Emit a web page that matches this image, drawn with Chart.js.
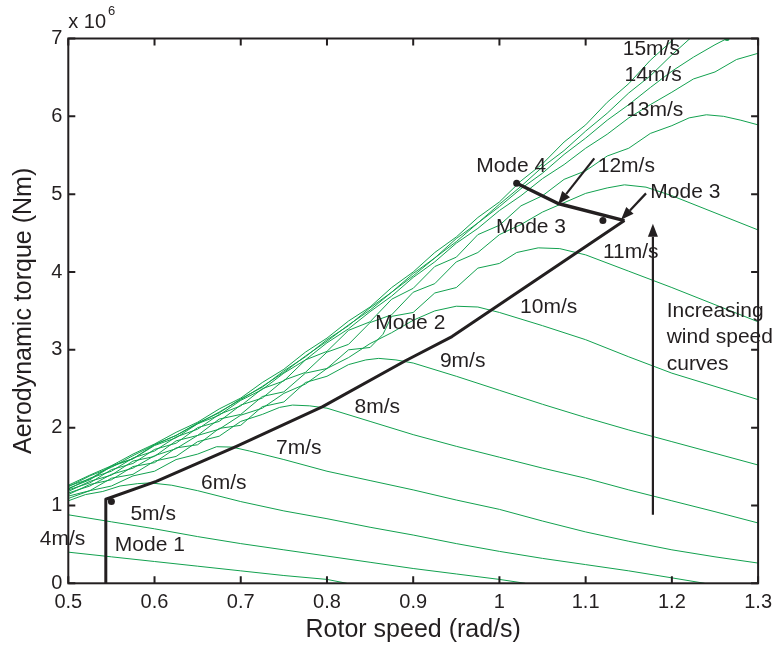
<!DOCTYPE html>
<html>
<head>
<meta charset="utf-8">
<script src="https://cdn.jsdelivr.net/npm/chart.js@4/dist/chart.umd.min.js"></script>
<style>
  html, body { margin: 0; background: #fff; }
  #box { width: 779px; height: 647px; }
</style>
</head>
<body>
<div id="box"><canvas id="torqueChart"></canvas></div>
<script>
// x axis ticks
const xTickValues = [0.5, 0.6, 0.7, 0.8, 0.9, 1.0, 1.1, 1.2, 1.3];
const xTickLabels = ["0.5", "0.6", "0.7", "0.8", "0.9", "1", "1.1", "1.2", "1.3"];
const yTickValues = [0, 1, 2, 3, 4, 5, 6, 7];

// torque (x10^6 Nm) against rotor speed (rad/s), one curve per wind speed
const wind4 = [[0.5,0.40],[0.55,0.34],[0.6,0.28],[0.65,0.22],[0.7,0.16],[0.75,0.10],[0.8,0.05],[0.823,0.0]];
const wind5 = [[0.5,0.88],[0.55,0.79],[0.6,0.70],[0.65,0.60],[0.7,0.51],[0.75,0.43],[0.8,0.35],[0.85,0.27],[0.9,0.19],[0.95,0.12],[1.0,0.05],[1.03,0.0]];
const wind6 = [[0.5,1.06],[0.52,1.14],[0.54,1.18],[0.56,1.25],[0.58,1.28],[0.595,1.29],[0.62,1.26],[0.65,1.19],[0.7,1.05],[0.75,0.93],[0.8,0.83],[0.85,0.72],[0.9,0.62],[0.95,0.51],[1.0,0.41],[1.05,0.32],[1.1,0.24],[1.15,0.16],[1.2,0.07],[1.238,0.0]];
const wind7 = [[0.5,1.09],[0.525,1.19],[0.55,1.25],[0.575,1.38],[0.6,1.44],[0.625,1.59],[0.65,1.66],[0.672,1.755],[0.69,1.75],[0.71,1.70],[0.75,1.59],[0.8,1.44],[0.85,1.32],[0.9,1.20],[0.95,1.07],[1.0,0.95],[1.05,0.80],[1.1,0.66],[1.15,0.54],[1.2,0.43],[1.25,0.34],[1.3,0.26]];
const wind8 = [[0.5,1.12],[0.525,1.19],[0.55,1.35],[0.575,1.40],[0.6,1.57],[0.625,1.63],[0.65,1.82],[0.675,1.89],[0.7,2.08],[0.725,2.17],[0.745,2.26],[0.76,2.29],[0.78,2.28],[0.8,2.25],[0.85,2.08],[0.9,1.91],[0.95,1.76],[1.0,1.62],[1.05,1.48],[1.1,1.35],[1.15,1.20],[1.2,1.06],[1.25,0.92],[1.3,0.775]];
const wind9 = [[0.5,1.14],[0.525,1.27],[0.55,1.33],[0.575,1.50],[0.6,1.55],[0.625,1.74],[0.65,1.78],[0.675,1.99],[0.7,2.03],[0.725,2.27],[0.75,2.33],[0.775,2.58],[0.8,2.66],[0.825,2.81],[0.845,2.87],[0.86,2.89],[0.88,2.87],[0.9,2.83],[0.95,2.66],[1.0,2.48],[1.05,2.30],[1.1,2.13],[1.15,1.97],[1.2,1.82],[1.25,1.67],[1.3,1.52]];
const wind10 = [[0.5,1.16],[0.525,1.25],[0.55,1.40],[0.575,1.48],[0.6,1.64],[0.625,1.73],[0.65,1.90],[0.675,1.98],[0.7,2.16],[0.725,2.25],[0.75,2.44],[0.775,2.56],[0.8,2.76],[0.825,2.90],[0.85,3.08],[0.875,3.22],[0.9,3.38],[0.925,3.50],[0.95,3.56],[0.975,3.55],[1.0,3.48],[1.05,3.31],[1.1,3.13],[1.15,2.91],[1.2,2.70],[1.25,2.53],[1.3,2.36]];
const wind11 = [[0.5,1.18],[0.525,1.31],[0.55,1.39],[0.575,1.57],[0.6,1.63],[0.625,1.83],[0.65,1.90],[0.675,2.11],[0.7,2.17],[0.725,2.40],[0.75,2.46],[0.775,2.70],[0.8,2.76],[0.825,3.00],[0.85,3.03],[0.865,3.20],[0.875,3.43],[0.9,3.48],[0.925,3.73],[0.95,3.80],[0.975,4.05],[1.0,4.11],[1.02,4.25],[1.045,4.31],[1.07,4.30],[1.1,4.22],[1.15,4.01],[1.2,3.80],[1.25,3.58],[1.3,3.36]];
const wind12 = [[0.5,1.20],[0.525,1.29],[0.55,1.46],[0.575,1.54],[0.6,1.72],[0.625,1.80],[0.65,2.00],[0.675,2.08],[0.7,2.29],[0.725,2.38],[0.75,2.61],[0.775,2.71],[0.8,2.97],[0.825,3.07],[0.85,3.35],[0.875,3.45],[0.9,3.74],[0.925,3.85],[0.95,4.13],[0.975,4.25],[1.0,4.48],[1.025,4.61],[1.05,4.77],[1.075,4.89],[1.1,5.01],[1.125,5.08],[1.145,5.12],[1.17,5.09],[1.2,4.98],[1.25,4.76],[1.3,4.54]];
const wind13 = [[0.5,1.21],[0.525,1.35],[0.55,1.44],[0.575,1.61],[0.6,1.70],[0.625,1.88],[0.65,1.98],[0.675,2.17],[0.7,2.28],[0.725,2.50],[0.75,2.60],[0.775,2.87],[0.8,2.98],[0.825,3.25],[0.85,3.36],[0.875,3.65],[0.9,3.79],[0.925,4.07],[0.95,4.19],[0.975,4.48],[1.0,4.60],[1.025,4.85],[1.05,4.98],[1.075,5.19],[1.1,5.30],[1.125,5.49],[1.15,5.59],[1.175,5.78],[1.2,5.88],[1.22,5.98],[1.24,6.02],[1.26,6.00],[1.28,5.95],[1.3,5.89]];
const wind14 = [[0.5,1.22],[0.525,1.33],[0.55,1.50],[0.575,1.60],[0.6,1.77],[0.625,1.87],[0.65,2.05],[0.675,2.16],[0.7,2.35],[0.725,2.49],[0.75,2.70],[0.775,2.87],[0.8,3.09],[0.825,3.27],[0.85,3.49],[0.875,3.69],[0.9,3.93],[0.925,4.13],[0.95,4.37],[0.975,4.56],[1.0,4.79],[1.025,4.98],[1.05,5.20],[1.075,5.38],[1.1,5.59],[1.125,5.77],[1.15,5.98],[1.175,6.15],[1.2,6.31],[1.225,6.48],[1.25,6.57],[1.275,6.73],[1.3,6.81]];
const wind15 = [[0.5,1.25],[0.525,1.34],[0.55,1.51],[0.575,1.60],[0.6,1.78],[0.625,1.90],[0.65,2.05],[0.675,2.20],[0.7,2.36],[0.725,2.53],[0.75,2.71],[0.775,2.92],[0.8,3.11],[0.825,3.32],[0.85,3.51],[0.875,3.74],[0.9,3.95],[0.925,4.18],[0.95,4.39],[0.975,4.63],[1.0,4.84],[1.025,5.07],[1.05,5.27],[1.075,5.51],[1.1,5.72],[1.125,5.95],[1.15,6.15],[1.175,6.37],[1.2,6.58],[1.225,6.76],[1.25,6.92],[1.264,7.0]];
const wind16 = [[0.5,1.24],[0.525,1.38],[0.55,1.49],[0.575,1.64],[0.6,1.78],[0.625,1.90],[0.65,2.06],[0.675,2.19],[0.7,2.37],[0.725,2.52],[0.75,2.73],[0.775,2.91],[0.8,3.13],[0.825,3.31],[0.85,3.54],[0.875,3.74],[0.9,3.98],[0.925,4.18],[0.95,4.43],[0.975,4.63],[1.0,4.87],[1.025,5.10],[1.05,5.35],[1.075,5.56],[1.1,5.81],[1.125,6.04],[1.15,6.30],[1.175,6.52],[1.2,6.79],[1.225,7.04],[1.25,7.3]];
const wind17 = [[0.5,1.26],[0.525,1.39],[0.55,1.51],[0.575,1.66],[0.6,1.79],[0.625,1.94],[0.65,2.07],[0.675,2.24],[0.7,2.38],[0.725,2.58],[0.75,2.75],[0.775,2.97],[0.8,3.15],[0.825,3.37],[0.85,3.55],[0.875,3.80],[0.9,4.00],[0.925,4.25],[0.95,4.45],[0.975,4.70],[1.0,4.90],[1.025,5.17],[1.05,5.39],[1.075,5.67],[1.1,5.89],[1.125,6.18],[1.15,6.42],[1.175,6.72],[1.2,6.97],[1.225,7.28]];

// operating trajectory (modes 1 to 4)
const modePath = [[0.5435,0],[0.5435,1.08],[0.602,1.31],[0.695,1.76],[0.795,2.27],[0.891,2.86],[0.945,3.17],[1.145,4.66]];
const mode34Path = [[1.145,4.66],[1.068,4.88],[1.02,5.14]];
const modeDots = [[0.55,1.05],[1.12,4.66],[1.02,5.14]];

// text labels: [text, left x, middle y]
const labels = [
  ["15m/s", 1.143, 6.86], ["14m/s", 1.145, 6.53], ["13m/s", 1.147, 6.08],
  ["12m/s", 1.114, 5.36], ["Mode 4", 0.973, 5.36], ["Mode 3", 1.175, 5.03],
  ["Mode 3", 0.996, 4.57], ["11m/s", 1.12, 4.25], ["10m/s", 1.024, 3.55],
  ["Increasing", 1.194, 3.49], ["wind speed", 1.194, 3.16], ["curves", 1.194, 2.81],
  ["Mode 2", 0.856, 3.34], ["9m/s", 0.931, 2.86], ["8m/s", 0.832, 2.26],
  ["7m/s", 0.741, 1.73], ["6m/s", 0.654, 1.28], ["5m/s", 0.572, 0.89],
  ["4m/s", 0.467, 0.57], ["Mode 1", 0.554, 0.49]
];

// arrows: [from x, from y, tip x, tip y]
const arrows = [
  [1.178, 0.88, 1.178, 4.62],
  [1.110, 5.46, 1.068, 4.87],
  [1.170, 5.01, 1.141, 4.67]
];

const ink = "#231f20";
const green = "#12a14f";
const fontFamily = "'Liberation Sans', Arial, Helvetica, sans-serif";

function toXY(arr) {
  return arr.map(p => ({ x: p[0], y: p[1] }));
}

const windCurves = [wind4, wind5, wind6, wind7, wind8, wind9, wind10, wind11, wind12, wind13, wind14, wind15, wind16, wind17];

const datasets = [
  { data: toXY(modePath), borderColor: ink, borderWidth: 3, showLine: true, pointRadius: 0, fill: false, borderJoinStyle: "round" },
  { data: toXY(mode34Path), borderColor: ink, borderWidth: 3.5, showLine: true, pointRadius: 0, fill: false, borderJoinStyle: "round" }
];
windCurves.forEach(function(curve) {
  datasets.push({
    data: toXY(curve),
    borderColor: green,
    borderWidth: 1,
    showLine: true,
    pointRadius: curve === wind15 ? curve.map((p, i) => i === curve.length - 1 ? 2.5 : 0) : 0,
    pointBackgroundColor: green,
    pointBorderWidth: 0,
    fill: false,
    tension: 0
  });
});

const annotate = {
  id: "annotate",
  afterDraw(chart) {
    const c = chart.ctx;
    const a = chart.chartArea;
    const xs = chart.scales.x;
    const ys = chart.scales.y;
    c.save();

    // box and inward ticks
    c.strokeStyle = ink;
    c.lineWidth = 2;
    c.strokeRect(a.left, a.top, a.right - a.left, a.bottom - a.top);
    c.beginPath();
    xTickValues.forEach(function(v) {
      const px = xs.getPixelForValue(v);
      c.moveTo(px, a.bottom); c.lineTo(px, a.bottom - 7);
      c.moveTo(px, a.top); c.lineTo(px, a.top + 7);
    });
    yTickValues.forEach(function(v) {
      const py = ys.getPixelForValue(v);
      c.moveTo(a.left, py); c.lineTo(a.left + 7, py);
      c.moveTo(a.right, py); c.lineTo(a.right - 7, py);
    });
    c.stroke();

    // dots on the trajectory
    c.fillStyle = ink;
    modeDots.forEach(function(d) {
      c.beginPath();
      c.arc(xs.getPixelForValue(d[0]), ys.getPixelForValue(d[1]), 3.5, 0, Math.PI * 2);
      c.fill();
    });

    // arrows
    arrows.forEach(function(ar) {
      const x1 = xs.getPixelForValue(ar[0]), y1 = ys.getPixelForValue(ar[1]);
      const x2 = xs.getPixelForValue(ar[2]), y2 = ys.getPixelForValue(ar[3]);
      const ang = Math.atan2(y2 - y1, x2 - x1);
      const len = 13, half = 5;
      const bx = x2 - len * Math.cos(ang), by = y2 - len * Math.sin(ang);
      c.lineWidth = 2.2;
      c.beginPath();
      c.moveTo(x1, y1); c.lineTo(bx, by);
      c.stroke();
      c.beginPath();
      c.moveTo(x2, y2);
      c.lineTo(bx + half * Math.sin(ang), by - half * Math.cos(ang));
      c.lineTo(bx - half * Math.sin(ang), by + half * Math.cos(ang));
      c.closePath();
      c.fill();
    });

    // text labels
    c.font = "21px " + fontFamily;
    c.textAlign = "left";
    c.textBaseline = "middle";
    labels.forEach(function(l) {
      c.fillText(l[0], xs.getPixelForValue(l[1]), ys.getPixelForValue(l[2]));
    });

    // axis multiplier
    c.textBaseline = "alphabetic";
    c.font = "20px " + fontFamily;
    c.fillText("x 10", a.left, 28);
    const w = c.measureText("x 10").width;
    c.font = "13px " + fontFamily;
    c.fillText("6", a.left + w + 2, 15);
    c.restore();
  }
};

const ctx = document.getElementById("torqueChart").getContext("2d");
const chart = new Chart(ctx, {
  type: "scatter",
  data: { datasets: datasets },
  options: {
    responsive: true,
    maintainAspectRatio: false,
    animation: false,
    layout: { padding: { top: 38.5, right: 18.3, left: 0, bottom: 0 } },
    plugins: { legend: { display: false }, tooltip: { enabled: false } },
    scales: {
      x: {
        type: "linear",
        min: 0.5,
        max: 1.3,
        afterBuildTicks: function(s) { s.ticks = xTickValues.map(v => ({ value: v })); },
        afterFit: function(s) { s.height = 63.7; },
        grid: { display: false, drawTicks: false },
        border: { display: false },
        ticks: {
          autoSkip: false,
          maxRotation: 0,
          padding: 7,
          color: ink,
          font: { family: fontFamily, size: 20 },
          callback: function(v, i) { return xTickLabels[i]; }
        },
        title: {
          display: true,
          text: "Rotor speed (rad/s)",
          color: ink,
          font: { family: fontFamily, size: 25 },
          padding: { top: 0, bottom: 2 }
        }
      },
      y: {
        type: "linear",
        min: 0,
        max: 7,
        afterBuildTicks: function(s) { s.ticks = yTickValues.map(v => ({ value: v })); },
        afterFit: function(s) { s.width = 68.3; },
        grid: { display: false, drawTicks: false },
        border: { display: false },
        ticks: {
          padding: 6,
          color: ink,
          font: { family: fontFamily, size: 20 }
        },
        title: {
          display: true,
          text: "Aerodynamic torque (Nm)",
          color: ink,
          font: { family: fontFamily, size: 25 },
          padding: { top: 9, bottom: 0 }
        }
      }
    }
  },
  plugins: [annotate]
});
</script>
</body>
</html>
